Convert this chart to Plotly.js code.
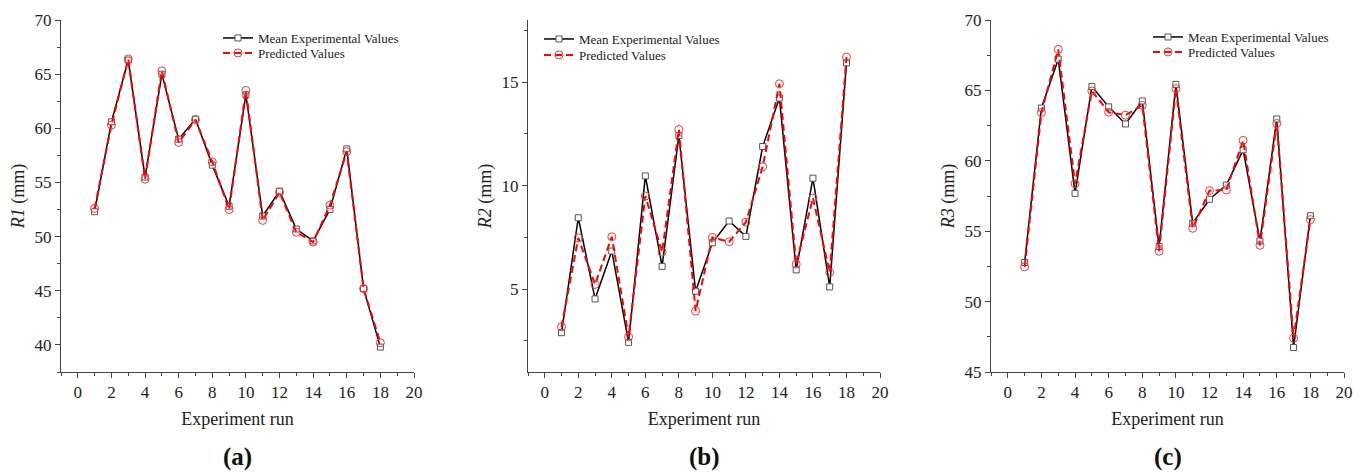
<!DOCTYPE html>
<html>
<head>
<meta charset="utf-8">
<script src="https://cdn.plot.ly/plotly-3.0.1.min.js"></script>
<style>html,body{margin:0;padding:0;background:#fff;}#chart{width:1363px;height:472px;}</style>
</head>
<body>
<div id="chart"></div>
<script>
// ---- data ----
const runs = [1,2,3,4,5,6,7,8,9,10,11,12,13,14,15,16,17,18];

const r1Experimental = [52.3,60.6,66.3,55.5,65.0,59.0,60.85,56.6,52.8,63.1,51.9,54.2,50.7,49.6,52.5,58.1,45.2,39.8];
const r1Predicted    = [52.6,60.3,66.4,55.3,65.3,58.7,60.8,56.9,52.5,63.5,51.5,54.1,50.4,49.5,52.9,57.85,45.2,40.2];

const r2Experimental = [2.9,8.45,4.53,6.84,2.43,10.47,6.10,12.42,4.90,7.24,8.29,7.55,11.89,14.23,5.93,10.36,5.11,15.93];
const r2Predicted    = [3.18,7.48,5.23,7.53,2.70,9.5,6.79,12.71,3.94,7.50,7.29,8.24,10.91,14.92,6.21,9.40,5.81,16.21];

const r3Experimental = [52.78,63.75,67.22,57.69,65.27,63.83,62.62,64.25,53.91,65.43,55.57,57.27,58.28,60.78,54.31,62.97,46.74,56.1];
const r3Predicted    = [52.47,63.43,67.91,58.37,64.96,63.45,63.24,63.94,53.58,65.13,55.21,57.88,57.93,61.45,54.0,62.65,47.4,55.82];

const seriesNames = ["Mean Experimental Values", "Predicted Values"];
const yTitles = ["<i>R1</i> (mm)", "<i>R2</i> (mm)", "<i>R3</i> (mm)"];
const panelLabels = ["(a)", "(b)", "(c)"];
const xTitle = "Experiment run";

// ---- layout geometry (pixels) ----
const W = 1363, H = 472;
const panels = [
  {exp: r1Experimental, pred: r1Predicted, left: 61,  right: 414,  yrange: [37.5, 70], ydtick: 5, ytick0: 40, legX: 218,  legRows: [39, 54]},
  {exp: r2Experimental, pred: r2Predicted, left: 528, right: 880,  yrange: [1, 18],    ydtick: 5, ytick0: 5,  legX: 539,  legRows: [40, 56]},
  {exp: r3Experimental, pred: r3Predicted, left: 991, right: 1344, yrange: [45, 70],   ydtick: 5, ytick0: 45, legX: 1148, legRows: [38, 53]}
];
const plotTop = 20, plotBottom = 372;

const FONT = "'Liberation Serif', 'Times New Roman', Times, serif";
const axisColor = "#444";

const traces = [];
const layout = {
  width: W, height: H,
  margin: {l: 0, r: 0, t: 0, b: 0},
  paper_bgcolor: "#fff", plot_bgcolor: "#fff",
  font: {family: FONT, color: "#222", size: 17},
  showlegend: true,
  annotations: []
};

function legendName(k) { return k === 1 ? "legend" : "legend" + k; }

panels.forEach((p, i) => {
  const n = i + 1;
  const m = i + 4;
  const xs = n === 1 ? "" : String(n);
  const legExp = legendName(2 * i + 1);
  const legPred = legendName(2 * i + 2);

  traces.push({
    x: runs, y: p.exp, xaxis: "x" + xs, yaxis: "y" + xs,
    name: seriesNames[0], legend: legExp, type: "scatter", mode: "lines+markers",
    line: {color: "#000", width: 1.5},
    marker: {symbol: "square", size: 6, color: "#fff", line: {color: "#555", width: 1}}
  });
  traces.push({
    x: runs, y: p.pred, xaxis: "x" + xs, yaxis: "y" + xs,
    name: seriesNames[1], legend: legPred, type: "scatter", mode: "lines+markers",
    line: {color: "#ff0000", width: 2, dash: "7px,4px"},
    marker: {symbol: "circle", size: 8, color: "rgba(255,255,255,0)", line: {color: "#ff3333", width: 1}}
  });

  const xdom = [p.left / W, p.right / W];
  const ydom = [1 - plotBottom / H, 1 - plotTop / H];

  layout["xaxis" + xs] = {
    domain: xdom, anchor: "y" + xs, range: [-1, 20],
    tick0: 0, dtick: 2, ticks: "outside", ticklen: 5, tickwidth: 1, tickcolor: axisColor,
    minor: {dtick: 1, ticks: "outside", ticklen: 3, tickcolor: axisColor, showgrid: false},
    showline: true, linecolor: axisColor, linewidth: 1, showgrid: false, zeroline: false,
    tickfont: {family: FONT, size: 17, color: "#222"},
    title: {text: xTitle, font: {family: FONT, size: 18, color: "#222"}, standoff: 10},
    automargin: false
  };
  layout["yaxis" + xs] = {
    domain: ydom, anchor: "x" + xs, range: p.yrange,
    tick0: p.ytick0, dtick: p.ydtick, ticks: "outside", ticklen: 5, tickwidth: 1, tickcolor: axisColor,
    minor: {dtick: p.ydtick / 2, ticks: "outside", ticklen: 3, tickcolor: axisColor, showgrid: false},
    showline: true, linecolor: axisColor, linewidth: 1, showgrid: false, zeroline: false,
    tickfont: {family: FONT, size: 17, color: "#222"},
    title: {text: yTitles[i], font: {family: FONT, size: 18, color: "#222"}, standoff: 5},
    automargin: false
  };
  // mirrored axes with inward ticks
  layout["xaxis" + m] = {
    domain: xdom, anchor: "y" + xs, overlaying: "x" + xs, side: "top", range: [-1, 20],
    tick0: 0, dtick: 2, ticks: "inside", ticklen: 5, tickwidth: 1, tickcolor: axisColor,
    minor: {dtick: 1, ticks: "inside", ticklen: 3, tickcolor: axisColor, showgrid: false},
    showline: true, linecolor: axisColor, linewidth: 1, showgrid: false, zeroline: false,
    showticklabels: false, fixedrange: true
  };
  layout["yaxis" + m] = {
    domain: ydom, anchor: "x" + xs, overlaying: "y" + xs, side: "right", range: p.yrange,
    tick0: p.ytick0, dtick: p.ydtick, ticks: "inside", ticklen: 5, tickwidth: 1, tickcolor: axisColor,
    minor: {dtick: p.ydtick / 2, ticks: "inside", ticklen: 3, tickcolor: axisColor, showgrid: false},
    showline: true, linecolor: axisColor, linewidth: 1, showgrid: false, zeroline: false,
    showticklabels: false, fixedrange: true
  };

  [legExp, legPred].forEach((key, r) => {
    layout[key] = {
      x: p.legX / W, y: 1 - (p.legRows[r] - 16) / H, xanchor: "left", yanchor: "top",
      bgcolor: "rgba(0,0,0,0)", borderwidth: 0,
      font: {family: FONT, size: 13, color: "#222"},
      tracegroupgap: 0
    };
  });

  layout.annotations.push({
    text: "<b>" + panelLabels[i] + "</b>", xref: "paper", yref: "paper",
    x: (p.left + p.right) / 2 / W, y: 1 - 457 / H, xanchor: "center", yanchor: "middle",
    showarrow: false, font: {family: FONT, size: 25, color: "#111"}
  });
});

Plotly.newPlot("chart", traces, layout, {staticPlot: true, displayModeBar: false});
</script>
</body>
</html>
